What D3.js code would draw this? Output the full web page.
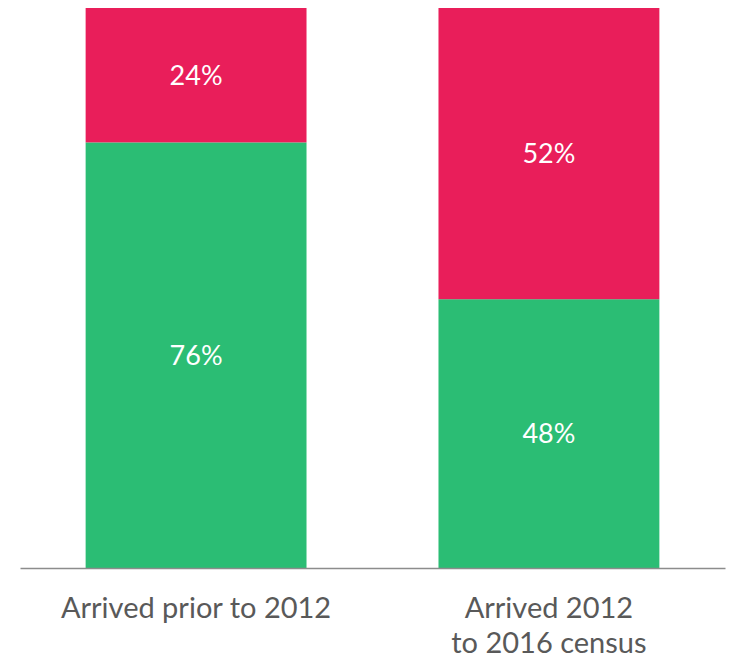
<!DOCTYPE html>
<html>
<head>
<meta charset="utf-8">
<script src="https://cdn.jsdelivr.net/npm/d3@7"></script>
<style>
  html, body { margin: 0; padding: 0; background: #fff; }
  svg { display: block; }
</style>
</head>
<body>
<svg id="chart" width="730" height="658"></svg>
<script>
// Arrival groups and the share of each segment (percent)
const categories = ["Arrived prior to 2012", "Arrived 2012\nto 2016 census"];
const lowerShare = [76, 48];   // green, bottom segment
const upperShare = [24, 52];   // red, top segment
const segmentKeys = ["lower", "upper"];
const segmentColors = ["#2bbd74", "#e91e5a"];

const svg = d3.select("#chart");
const W = 730, H = 658;
const margin = { top: 8, right: 5, bottom: 90, left: 20 };
const baseline = H - margin.bottom;
const fontFamily = "Lato, 'Open Sans', sans-serif";

const rows = categories.map((c, i) => ({ cat: c, lower: lowerShare[i], upper: upperShare[i] }));
const stacked = d3.stack().keys(segmentKeys)(rows);

const x = d3.scaleBand()
  .domain(categories)
  .range([margin.left, W - margin.right])
  .paddingInner(0.374)
  .paddingOuter(0.186);

const y = d3.scaleLinear().domain([0, 100]).range([baseline, margin.top]);
const color = d3.scaleOrdinal().domain(segmentKeys).range(segmentColors);

const layers = svg.append("g").selectAll("g")
  .data(stacked)
  .join("g")
  .attr("fill", d => color(d.key));

layers.selectAll("rect")
  .data(d => d)
  .join("rect")
  .attr("x", d => x(d.data.cat))
  .attr("width", x.bandwidth())
  .attr("y", d => y(d[1]))
  .attr("height", d => y(d[0]) - y(d[1]));

layers.selectAll("text")
  .data(d => d)
  .join("text")
  .attr("x", d => x(d.data.cat) + x.bandwidth() / 2)
  .attr("y", d => (y(d[0]) + y(d[1])) / 2)
  .attr("dy", "0.36em")
  .attr("text-anchor", "middle")
  .attr("fill", "#ffffff")
  .style("font-family", fontFamily)
  .style("font-size", "27px")
  .text(d => (d[1] - d[0]) + "%");

// category axis along the baseline
const axis = svg.append("g")
  .attr("transform", `translate(0,${baseline})`)
  .call(d3.axisBottom(x).tickSize(0).tickFormat(""));
axis.select(".domain").attr("stroke", "#8c8c8c").attr("stroke-width", 1.3);

const labels = svg.append("g").selectAll("text")
  .data(categories)
  .join("text")
  .attr("x", d => x(d) + x.bandwidth() / 2)
  .attr("y", baseline + 50)
  .attr("text-anchor", "middle")
  .attr("fill", "#595959")
  .style("font-family", fontFamily)
  .style("font-size", "29px");

labels.selectAll("tspan")
  .data(d => d.split("\n"))
  .join("tspan")
  .attr("x", function () { return d3.select(this.parentNode).attr("x"); })
  .attr("dy", (d, i) => i === 0 ? 0 : 35)
  .text(d => d);
</script>
</body>
</html>
